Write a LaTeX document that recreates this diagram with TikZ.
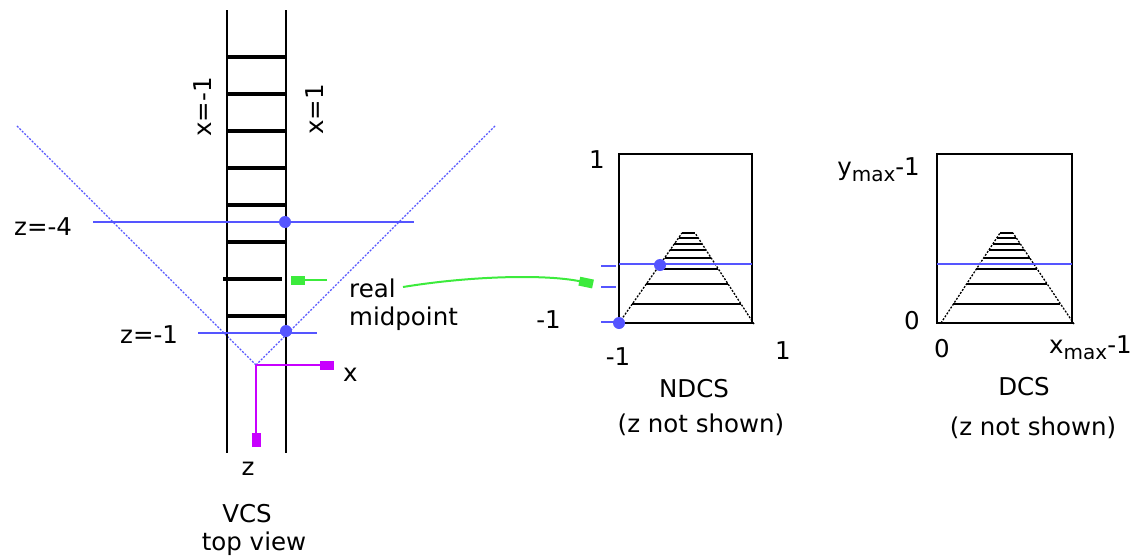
\documentclass[tikz,border=0pt]{standalone}
\usepackage{fontspec}
\setmainfont{DejaVu Sans}
\usetikzlibrary{arrows.meta}
\definecolor{vblue}{RGB}{85,85,255}
\definecolor{vmag}{RGB}{200,0,255}
\definecolor{vgreen}{RGB}{60,235,60}
\newcommand{\mysub}[1]{\raisebox{-6pt}{\fontsize{20}{20}\selectfont #1}}
\tikzset{
 lbl/.style={inner sep=0pt, font=\fontsize{24.5}{28}\selectfont},
 rung/.style={line width=3.6pt},
 rail/.style={line width=2.4pt},
 bluel/.style={vblue, line width=1.6pt},
 cone/.style={vblue, line width=1.1pt, dash pattern=on 2pt off 1.5pt},
 bdot/.style={circle, fill=vblue, inner sep=0pt, minimum size=12pt},
 blk/.style={-{Rectangle[length=14pt,width=9pt]}},
 boxl/.style={line width=2.4pt},
 pyr/.style={line width=1.3pt, dash pattern=on 2pt off 1.5pt},
 pline/.style={line width=2.2pt},
}
\begin{document}
\begin{tikzpicture}[x=1pt,y=-1pt]
\useasboundingbox (0,0) rectangle (1137,557);
% ---------------- VCS ----------------
\coordinate (apex) at (256,365);
\draw[cone] (apex) -- (16,125);
\draw[cone] (apex) -- (496,125);
\draw[rail] (227,10) -- (227,453);
\draw[rail] (286,10) -- (286,453);
\foreach \y in {57,94,131,168,205,242,316}
  \draw[rung] (227,\y) -- (286,\y);
\draw[rung] (223,279) -- (282,279);
\draw[bluel] (93,222) -- (414,222);
\draw[bluel] (198,333) -- (317,333);
\node[bdot] (d4) at (285,222) {};
\node[bdot] (d1) at (286,331) {};
\coordinate (xend) at (334,365);
\coordinate (zend) at (256,447);
\draw[vmag, line width=2pt, blk] (apex) -- (xend);
\draw[vmag, line width=2pt, blk] (apex) -- (zend);
\node[lbl, anchor=base west] (zm4) at (14,235) {z=-4};
\node[lbl, anchor=base west] (zm1) at (120,343) {z=-1};
\node[lbl, anchor=base west, rotate=90] (xm1) at (211,137) {x=-1};
\node[lbl, anchor=base west, rotate=90] (xp1) at (323,135) {x=1};
\node[lbl, anchor=base west] (xl) at (343,381) {x};
\node[lbl, anchor=base] (zl) at (248,475) {z};
\node[lbl, anchor=base] (vcs) at (247,522) {VCS};
\node[lbl, anchor=base] (tv) at (254,550) {top view};
\node[lbl, anchor=base west] (real) at (349,297) {real};
\node[lbl, anchor=base west] (mid) at (349,325) {midpoint};
% green arrows
\coordinate (g1s) at (327,280);
\coordinate (g1e) at (291,280);
\draw[vgreen, line width=2pt, blk] (g1s) -- (g1e);
\coordinate (g2s) at (403,287);
\coordinate (g2e) at (593,284);
\draw[vgreen, line width=2pt, blk] (g2s) .. controls (470,276) and (545,274) .. (g2e);
% ---------------- NDCS ----------------
\draw[boxl] (619,154) rectangle (752,323);
\foreach \y in {304,284,269,258,250,244,238,233}
  \draw[pline] ({619+(323-\y)*0.7},\y) -- ({753-(323-\y)*0.6444},\y);
\draw[pyr] (619,323) -- (682,233);
\draw[pyr] (754,324) -- (695,233);
\draw[bluel] (619,264) -- (752,264);
\foreach \y in {266,287,322}
  \draw[bluel] (601,\y) -- (616,\y);
\node[bdot] (nd1) at (660,265) {};
\node[bdot] (nd2) at (619,323) {};
\node[lbl, anchor=base] (n1) at (597,168) {1};
\node[lbl, anchor=base east] (nm1) at (561,328) {-1};
\node[lbl, anchor=base] (nm1b) at (618,365) {-1};
\node[lbl, anchor=base] (n1b) at (783,359) {1};
\node[lbl, anchor=base] (ndcs) at (694,397) {NDCS};
\node[lbl, anchor=base] (nzs) at (701,432) {(z not shown)};
% ---------------- DCS ----------------
\draw[boxl] (937,154) rectangle (1072,323);
\foreach \y in {304,284,269,258,250,244,238,233}
  \draw[pline] ({941+(323-\y)*0.656},\y) -- ({1073-(323-\y)*0.667},\y);
\draw[pyr] (941,323) -- (1000,233);
\draw[pyr] (1074,324) -- (1013,233);
\draw[bluel] (937,264) -- (1072,264);
\node[lbl, anchor=base east] (ymax) at (920,175) {y\mysub{max}-1};
\node[lbl, anchor=base east] (d0) at (920,329) {0};
\node[lbl, anchor=base] (d0b) at (942,357) {0};
\node[lbl, anchor=base west] (xmax) at (1049,353) {x\mysub{max}-1};
\node[lbl, anchor=base] (dcs) at (1024,395) {DCS};
\node[lbl, anchor=base] (dzs) at (1033,435) {(z not shown)};
\end{tikzpicture}
\end{document}
